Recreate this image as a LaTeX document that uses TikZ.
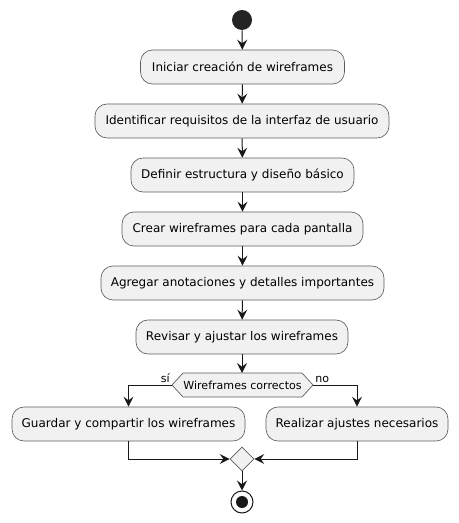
\documentclass[tikz,border=0pt]{standalone}
\usepackage{fontspec}
\setmainfont{DejaVu Sans}
\usetikzlibrary{shapes.geometric,arrows.meta}
\definecolor{boxfill}{HTML}{F1F1F1}
\definecolor{linec}{HTML}{181818}
\definecolor{borderc}{HTML}{5B5B5B}
\tikzset{
  act/.style={draw=borderc, line width=0.5pt, fill=boxfill, rounded corners=9pt,
    minimum height=25.5pt, inner sep=0pt, font=\fontsize{9}{11}\selectfont, text=black},
  flow/.style={draw=linec, line width=0.75pt, -{Stealth[length=7.5pt,width=7.5pt,inset=2.8pt]}},
  plain/.style={draw=linec, line width=0.75pt},
  lbl/.style={font=\fontsize{8.3}{10}\selectfont, inner sep=0pt, text=black},
}
\begin{document}
\begin{tikzpicture}[x=0.75pt,y=-0.75pt]
\useasboundingbox (0,0) rectangle (458,523);
\node[circle, fill=linec!95, minimum size=15pt, inner sep=0pt] (start) at (242,20) {};
\node[act, minimum width=153pt] (b1) at (242.5,67) {Iniciar creación de wireframes};
\node[act, minimum width=220.5pt] (b2) at (242,121) {Identificar requisitos de la interfaz de usuario};
\node[act, minimum width=167.25pt] (b3) at (242.5,175) {Definir estructura y diseño básico};
\node[act, minimum width=180.75pt] (b4) at (242.5,229) {Crear wireframes para cada pantalla};
\node[act, minimum width=212.25pt] (b5) at (242.5,283) {Agregar anotaciones y detalles importantes};
\node[act, minimum width=159pt] (b6) at (242,337) {Revisar y ajustar los wireframes};
% decision hexagon
\coordinate (dL) at (172,385);
\coordinate (dR) at (313,385);
\draw[draw=borderc, line width=0.5pt, fill=boxfill] (dL) -- (183,373) -- (302,373) -- (dR) -- (302,397) -- (183,397) -- cycle;
\node[font=\fontsize{8.3}{10}\selectfont, inner sep=0pt] (dec) at (242.5,385) {Wireframes correctos};
\coordinate (dT) at (242,373);
\node[act, minimum width=174.75pt] (bl) at (128.5,424) {Guardar y compartir los wireframes};
\node[act, minimum width=136.5pt] (br) at (357,424) {Realizar ajustes necesarios};
\node[diamond, draw=borderc, line width=0.5pt, fill=boxfill, aspect=1, minimum width=18pt, minimum height=18pt, inner sep=0pt] (m) at (242,459) {};
\node[circle, draw=linec, line width=0.75pt, minimum size=16.5pt, inner sep=0pt, fill=white] (end) at (242,502) {};
\node[circle, fill=linec, minimum size=9pt, inner sep=0pt] (endin) at (end.center) {};
% connectors
\draw[flow] (start) -- (b1);
\draw[flow] (b1) -- (b2);
\draw[flow] (b2) -- (b3);
\draw[flow] (b3) -- (b4);
\draw[flow] (b4) -- (b5);
\draw[flow] (b5) -- (b6);
\draw[flow] (b6) -- (dT);
\draw[flow] (dL) -| (bl.north);
\draw[flow] (dR) -| (br.north);
\draw[flow] (bl.south) |- (m.west);
\draw[flow] (br.south) |- (m.east);
\draw[flow] (m) -- (end);
\node[lbl, anchor=south east] (si) at (170,383) {sí};
\node[lbl, anchor=south west] (no) at (315,383) {no};
\end{tikzpicture}
\end{document}
